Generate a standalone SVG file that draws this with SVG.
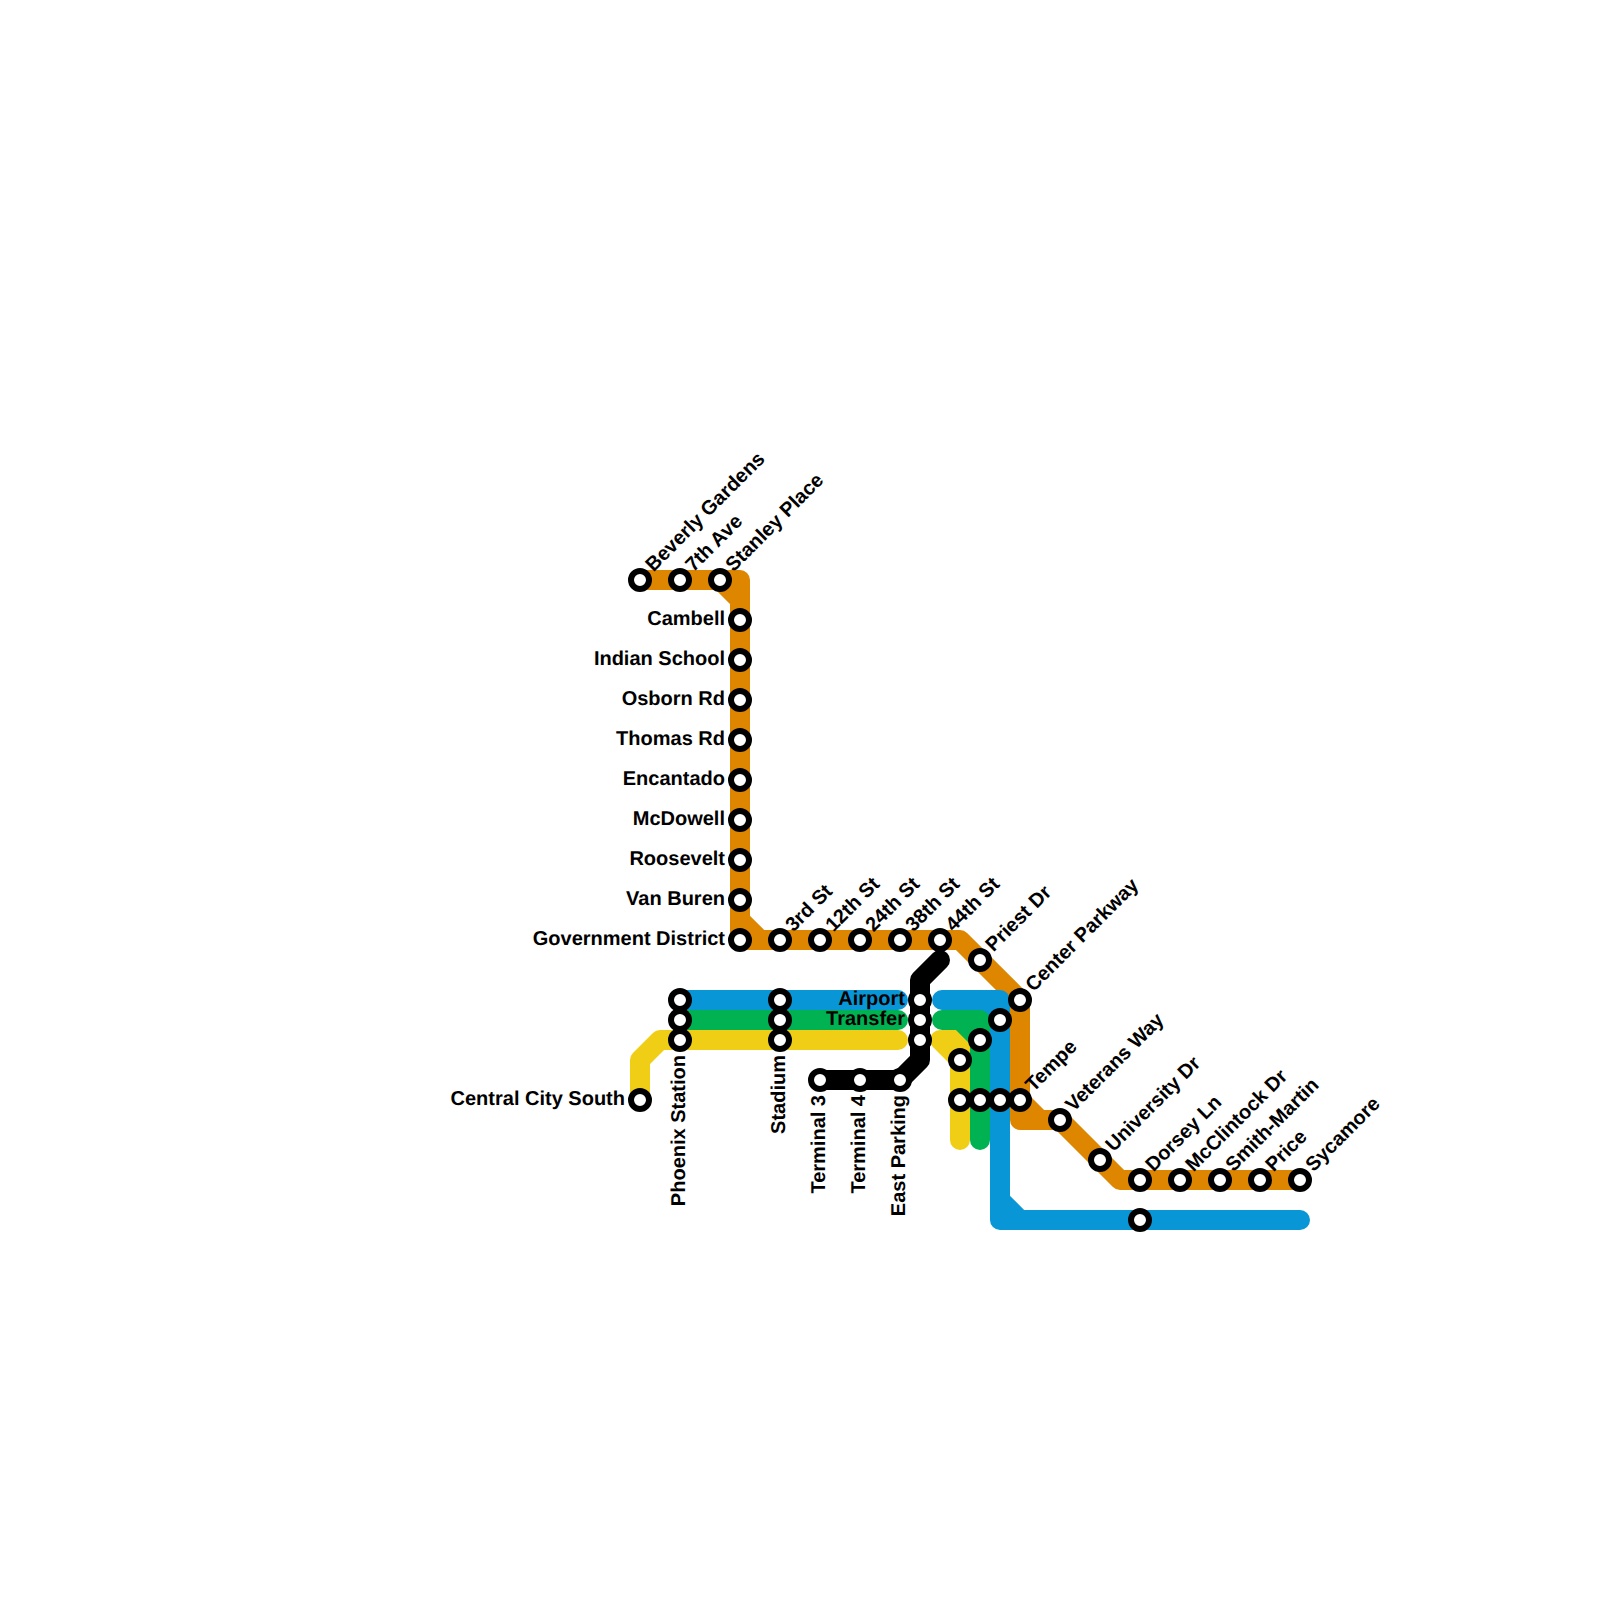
<svg xmlns="http://www.w3.org/2000/svg" width="1600" height="1600" viewBox="0 0 1600 1600">
<style>
.l{fill:none;stroke-width:20;stroke-linecap:round;stroke-linejoin:round}
.o{stroke:#df8600}.b{stroke:#0896d7}.g{stroke:#00b251}.y{stroke:#f0ce15}.k{stroke:#000}
.s{fill:#fff;stroke:#000;stroke-width:6}
text{font-family:"Liberation Sans",Arial,sans-serif;font-weight:700;font-size:20px;fill:#000;text-rendering:geometricPrecision}
.r{text-anchor:end}
</style>
<rect width="1600" height="1600" fill="#fff"/>
<g id="connectors">
<path class="l o" d="M640 580H740V940H960L1020 1000V1120H1060L1120 1180H1300M720 580L740 600M740 920L760 940M1020 1100L1040 1120"/>
<path class="l y" d="M640 1100V1060L660 1040H898M942 1040H960V1140M940 1040L960 1060"/>
<path class="l b" d="M680 1000H898M942 1000H1000V1220H1300M980 1000L1000 1020M1000 1200L1020 1220"/>
<path class="l g" d="M680 1020H898M942 1020H980V1140M960 1020L980 1040"/>
<path class="l k" d="M940 960L920 980V1060L900 1080H820"/>
</g>
<g id="n-beverly"><circle class="s" cx="640" cy="580" r="9"/><text transform="translate(653.5 572.5) rotate(-45)">Beverly Gardens</text></g>
<g id="n-7th"><circle class="s" cx="680" cy="580" r="9"/><text transform="translate(693.5 572.5) rotate(-45)">7th Ave</text></g>
<g id="n-stanley"><circle class="s" cx="720" cy="580" r="9"/><text transform="translate(733.5 572.5) rotate(-45)">Stanley Place</text></g>
<g id="n-cambell"><circle class="s" cx="740" cy="620" r="9"/><text class="r" x="725" y="624.5">Cambell</text></g>
<g id="n-indian"><circle class="s" cx="740" cy="660" r="9"/><text class="r" x="725" y="664.5">Indian School</text></g>
<g id="n-osborn"><circle class="s" cx="740" cy="700" r="9"/><text class="r" x="725" y="704.5">Osborn Rd</text></g>
<g id="n-thomas"><circle class="s" cx="740" cy="740" r="9"/><text class="r" x="725" y="744.5">Thomas Rd</text></g>
<g id="n-encantado"><circle class="s" cx="740" cy="780" r="9"/><text class="r" x="725" y="784.5">Encantado</text></g>
<g id="n-mcdowell"><circle class="s" cx="740" cy="820" r="9"/><text class="r" x="725" y="824.5">McDowell</text></g>
<g id="n-roosevelt"><circle class="s" cx="740" cy="860" r="9"/><text class="r" x="725" y="864.5">Roosevelt</text></g>
<g id="n-vanburen"><circle class="s" cx="740" cy="900" r="9"/><text class="r" x="725" y="904.5">Van Buren</text></g>
<g id="n-government"><circle class="s" cx="740" cy="940" r="9"/><text class="r" x="725" y="944.5">Government District</text></g>
<g id="n-3rd"><circle class="s" cx="780" cy="940" r="9"/><text transform="translate(793.5 932.5) rotate(-45)">3rd St</text></g>
<g id="n-12th"><circle class="s" cx="820" cy="940" r="9"/><text transform="translate(833.5 932.5) rotate(-45)">12th St</text></g>
<g id="n-24th"><circle class="s" cx="860" cy="940" r="9"/><text transform="translate(873.5 932.5) rotate(-45)">24th St</text></g>
<g id="n-38th"><circle class="s" cx="900" cy="940" r="9"/><text transform="translate(913.5 932.5) rotate(-45)">38th St</text></g>
<g id="n-44th"><circle class="s" cx="940" cy="940" r="9"/><text transform="translate(953.5 932.5) rotate(-45)">44th St</text></g>
<g id="n-priest"><circle class="s" cx="980" cy="960" r="9"/><text transform="translate(993.5 952.5) rotate(-45)">Priest Dr</text></g>
<g id="n-center"><circle class="s" cx="1020" cy="1000" r="9"/><text transform="translate(1033.5 992.5) rotate(-45)">Center Parkway</text></g>
<g id="n-tempe"><circle class="s" cx="1020" cy="1100" r="9"/><text transform="translate(1033.5 1092.5) rotate(-45)">Tempe</text></g>
<g id="n-veterans"><circle class="s" cx="1060" cy="1120" r="9"/><text transform="translate(1073.5 1112.5) rotate(-45)">Veterans Way</text></g>
<g id="n-university"><circle class="s" cx="1100" cy="1160" r="9"/><text transform="translate(1113.5 1152.5) rotate(-45)">University Dr</text></g>
<g id="n-dorsey"><circle class="s" cx="1140" cy="1180" r="9"/><text transform="translate(1153.5 1172.5) rotate(-45)">Dorsey Ln</text></g>
<g id="n-mcclintock"><circle class="s" cx="1180" cy="1180" r="9"/><text transform="translate(1193.5 1172.5) rotate(-45)">McClintock Dr</text></g>
<g id="n-smith"><circle class="s" cx="1220" cy="1180" r="9"/><text transform="translate(1233.5 1172.5) rotate(-45)">Smith-Martin</text></g>
<g id="n-price"><circle class="s" cx="1260" cy="1180" r="9"/><text transform="translate(1273.5 1172.5) rotate(-45)">Price</text></g>
<g id="n-sycamore"><circle class="s" cx="1300" cy="1180" r="9"/><text transform="translate(1313.5 1172.5) rotate(-45)">Sycamore</text></g>
<g id="n-phoenix"><circle class="s" cx="680" cy="1000" r="9"/><circle class="s" cx="680" cy="1020" r="9"/><circle class="s" cx="680" cy="1040" r="9"/><text class="r" transform="translate(685 1055) rotate(-90)">Phoenix Station</text></g>
<g id="n-stadium"><circle class="s" cx="780" cy="1000" r="9"/><circle class="s" cx="780" cy="1020" r="9"/><circle class="s" cx="780" cy="1040" r="9"/><text class="r" transform="translate(785 1055) rotate(-90)">Stadium</text></g>
<g id="n-central"><circle class="s" cx="640" cy="1100" r="9"/><text class="r" x="625" y="1104.5">Central City South</text></g>
<g id="n-terminal3"><circle class="s" cx="820" cy="1080" r="9"/><text class="r" transform="translate(825 1095) rotate(-90)">Terminal 3</text></g>
<g id="n-terminal4"><circle class="s" cx="860" cy="1080" r="9"/><text class="r" transform="translate(865 1095) rotate(-90)">Terminal 4</text></g>
<g id="n-eastparking"><circle class="s" cx="900" cy="1080" r="9"/><text class="r" transform="translate(905 1095) rotate(-90)">East Parking</text></g>
<g id="n-airport"><circle class="s" cx="920" cy="1000" r="9"/><text class="r" x="905" y="1004.5">Airport</text></g>
<g id="n-transfer"><circle class="s" cx="920" cy="1020" r="9"/><text class="r" x="905" y="1024.5">Transfer</text></g>
<g id="n-y1"><circle class="s" cx="920" cy="1040" r="9"/></g>
<g id="n-e1"><circle class="s" cx="960" cy="1060" r="9"/><circle class="s" cx="960" cy="1100" r="9"/></g>
<g id="n-e2"><circle class="s" cx="980" cy="1040" r="9"/><circle class="s" cx="980" cy="1100" r="9"/></g>
<g id="n-e3"><circle class="s" cx="1000" cy="1020" r="9"/><circle class="s" cx="1000" cy="1100" r="9"/></g>
<g id="n-b1"><circle class="s" cx="1140" cy="1220" r="9"/></g>
</svg>
